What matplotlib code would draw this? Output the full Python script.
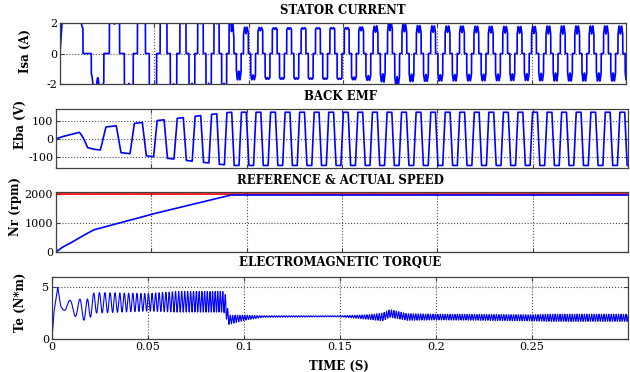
import numpy as np
import matplotlib.pyplot as plt

plt.rcParams['font.family'] = ['DejaVu Serif']
plt.rcParams['axes.unicode_minus'] = False

# ---- values ----
# speed profile (actual), rpm
speed_t = [0, 0.003, 0.0065, 0.012, 0.0196, 0.05, 0.0915, 0.3]
speed_rpm = [0, 150, 270, 480, 760, 1300, 1965, 1965]
speed_ref = 2000
pole_pairs = 4
rotor_start = 0.21  # initial rotor position, electrical turns

# back emf flat-top level at full speed
emf_peak = 148

# torque envelope (lower / upper edge of the ripple band), N*m
te_t = [0, 0.001, 0.003, 0.0045, 0.007, 0.012, 0.018, 0.022, 0.05, 0.065, 0.0895,
        0.0905, 0.092, 0.1, 0.11, 0.15, 0.165, 0.172, 0.176, 0.185, 0.2, 0.25, 0.26, 0.3]
te_lo = [0, 2.6, 5.0, 3.2, 2.4, 2.2, 1.7, 2.5, 2.7, 2.6, 2.6,
         2.1, 1.4, 1.8, 2.1, 2.15, 1.9, 1.75, 2.1, 1.8, 1.85, 1.75, 1.7, 1.7]
te_hi = [0, 2.6, 5.0, 3.8, 3.6, 3.9, 3.8, 4.5, 4.4, 4.6, 4.6,
         4.2, 2.3, 2.3, 2.25, 2.25, 2.35, 2.5, 2.85, 2.45, 2.4, 2.35, 2.4, 2.4]
torque_const = 1.33  # N*m per A

xticks = [0, 0.05, 0.1, 0.15, 0.2, 0.25]
xticklabels = ['0', '0.05', '0.1', '0.15', '0.2', '0.25']

# ---- build waveforms from the profile ----
t = np.linspace(0, 0.3, 30001)
dt = t[1] - t[0]
nr = np.interp(t, speed_t, speed_rpm)
fe = nr * pole_pairs / 60.0
theta = 2 * np.pi * (np.cumsum(fe) * dt + rotor_start)

eba = emf_peak * nr / speed_rpm[-1] * np.clip(2 * np.sin(theta), -1, 1)

lo = np.interp(t, te_t, te_lo)
hi = np.interp(t, te_t, te_hi)
te = lo + (hi - lo) * (0.5 + 0.5 * np.cos(6 * theta))

s = np.sin(theta)
step = np.where(s > 0.5, 1.0, np.where(s < -0.5, -1.0, 0.0))
isa = te / torque_const * step

W, H = 630, 372
fig = plt.figure(figsize=(W / 100, H / 100), dpi=100)


def add_ax(left, right, top, bottom):
    return fig.add_axes([left / W, 1 - bottom / H, (right - left) / W, (bottom - top) / H])


def style(ax, show_x):
    ax.set_xlim(0, 0.3)
    ax.set_xticks(xticks)
    if show_x:
        ax.set_xticklabels(xticklabels)
    else:
        ax.set_xticklabels([])
    ax.grid(True, linestyle=':', color='#505050', linewidth=0.8)
    ax.tick_params(direction='in', top=True, right=True, length=3,
                   labelsize=8, color='#404040', pad=2)
    for sp in ax.spines.values():
        sp.set_color('#404040')
        sp.set_linewidth(0.9)


blue = '#0000ff'

ax1 = add_ax(60, 626, 23, 84)
ax1.plot(t, isa, color=blue, lw=1.2)
ax1.set_ylim(-2, 2)
ax1.set_yticks([-2, 0, 2])
style(ax1, False)

ax2 = add_ax(56, 628, 109, 168)
ax2.plot(t, eba, color=blue, lw=1.2)
ax2.set_ylim(-162, 166)
ax2.set_yticks([-100, 0, 100])
style(ax2, False)

ax3 = add_ax(56, 628, 192, 252)
ax3.axhline(speed_ref, color='#ff0000', lw=1.2)
ax3.plot(t, nr, color=blue, lw=1.2)
ax3.set_ylim(0, 2070)
ax3.set_yticks([0, 1000, 2000])
style(ax3, False)

ax4 = add_ax(52, 628, 277, 339)
ax4.plot(t, te, color=blue, lw=0.8)
ax4.set_ylim(0, 6)
ax4.set_yticks([0, 5])
style(ax4, True)

bold = dict(fontweight='bold', fontsize=8.5, ha='center', va='center')
fig.text(343 / W, 1 - 11 / H, 'STATOR CURRENT', **bold)
fig.text(340 / W, 1 - 97 / H, 'BACK EMF', **bold)
fig.text(340 / W, 1 - 180 / H, 'REFERENCE & ACTUAL SPEED', **bold)
fig.text(340 / W, 1 - 263 / H, 'ELECTROMAGNETIC TORQUE', **bold)
fig.text(339 / W, 1 - 366 / H, 'TIME (S)', **bold)

ylab = dict(fontweight='bold', fontsize=8.5, ha='center', va='center', rotation=90)
fig.text(25 / W, 1 - 51 / H, 'Isa (A)', **ylab)
fig.text(20 / W, 1 - 124 / H, 'Eba (V)', **ylab)
fig.text(15 / W, 1 - 207 / H, 'Nr (rpm)', **ylab)
fig.text(20 / W, 1 - 302 / H, 'Te (N*m)', **ylab)

fig.savefig('out.png', dpi=100)
